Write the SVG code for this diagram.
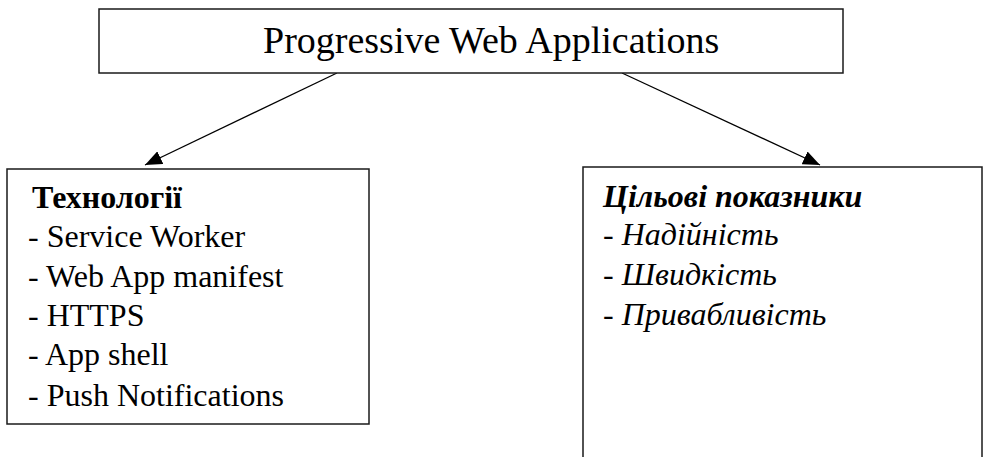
<svg xmlns="http://www.w3.org/2000/svg" width="983" height="457" viewBox="0 0 983 457">
<style>
.box{fill:#fff;stroke:#1a1a1a;stroke-width:1.5}
.t{font-family:"Liberation Serif","Times New Roman",serif;fill:#000}
.title{font-size:38px}
.item{font-size:32px}
.conn{stroke:#000;stroke-width:1.3;fill:none}
</style>
<defs>
<marker id="ah" markerUnits="userSpaceOnUse" markerWidth="18" markerHeight="14" refX="17" refY="7" orient="auto">
<path d="M0,0 L17,7 L0,14 z" fill="#000"/>
</marker>
</defs>
<rect width="983" height="457" fill="#fff"/>
<g id="connectors">
<line class="conn" x1="337" y1="73" x2="145" y2="165" marker-end="url(#ah)"/>
<line class="conn" x1="622" y1="73" x2="820" y2="165" marker-end="url(#ah)"/>
</g>
<g id="pwa">
<rect class="box" x="99" y="9" width="744" height="64"/>
<text class="t title" x="263" y="53">Progressive Web Applications</text>
</g>
<g id="tech">
<rect class="box" x="7" y="169" width="362" height="255"/>
<text class="t item" x="32" y="208" font-weight="bold">Технології</text>
<text class="t item" x="28" y="247">- Service Worker</text>
<text class="t item" x="28" y="287">- Web App manifest</text>
<text class="t item" x="28" y="326">- HTTPS</text>
<text class="t item" x="28" y="365">- App shell</text>
<text class="t item" x="28" y="406">- Push Notifications</text>
</g>
<g id="targets">
<rect class="box" x="583" y="167" width="399" height="300"/>
<text class="t item" x="603" y="207" font-weight="bold" font-style="italic">Цільові показники</text>
<text class="t item" x="603" y="245" font-style="italic">- Надійність</text>
<text class="t item" x="603" y="285" font-style="italic">- Швидкість</text>
<text class="t item" x="603" y="325" font-style="italic">- Привабливість</text>
</g>
</svg>
